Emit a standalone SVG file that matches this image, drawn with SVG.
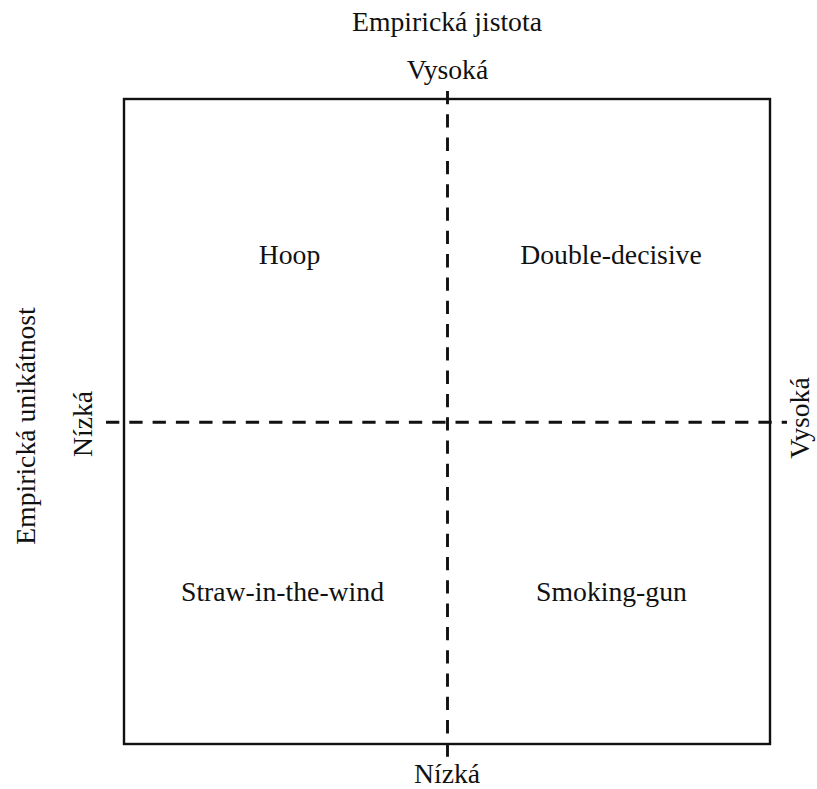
<svg xmlns="http://www.w3.org/2000/svg" width="817" height="789" viewBox="0 0 817 789">
<style>
text{font-family:"Liberation Serif","Times New Roman",serif;font-size:27.7px;fill:#111;text-anchor:middle}
.frame{fill:none;stroke:#111;stroke-width:2.4}
.dash{stroke:#111;stroke-width:2.9;stroke-dasharray:13.3 10}
</style>
<rect width="817" height="789" fill="#fff"/>
<g id="frame"><rect class="frame" x="124" y="99" width="646" height="645"/></g>
<g id="connectors">
<line class="dash" x1="447.5" y1="91" x2="447.5" y2="757"/>
<line class="dash" x1="106" y1="422.3" x2="787" y2="422.3"/>
</g>
<g id="axis-labels">
<text x="447" y="31">Empirická jistota</text>
<text x="447.5" y="78.5">Vysoká</text>
<text x="447" y="783">Nízká</text>
<text transform="translate(92,424) rotate(-90)">Nízká</text>
<text transform="translate(809,418) rotate(-90)">Vysoká</text>
<text transform="translate(35,426) rotate(-90)">Empirická unikátnost</text>
</g>
<g id="hoop"><text x="289.5" y="264.3">Hoop</text></g>
<g id="double-decisive"><text x="611" y="264.3">Double-decisive</text></g>
<g id="straw-in-the-wind"><text x="282.5" y="601">Straw-in-the-wind</text></g>
<g id="smoking-gun"><text x="611.5" y="601">Smoking-gun</text></g>
</svg>
